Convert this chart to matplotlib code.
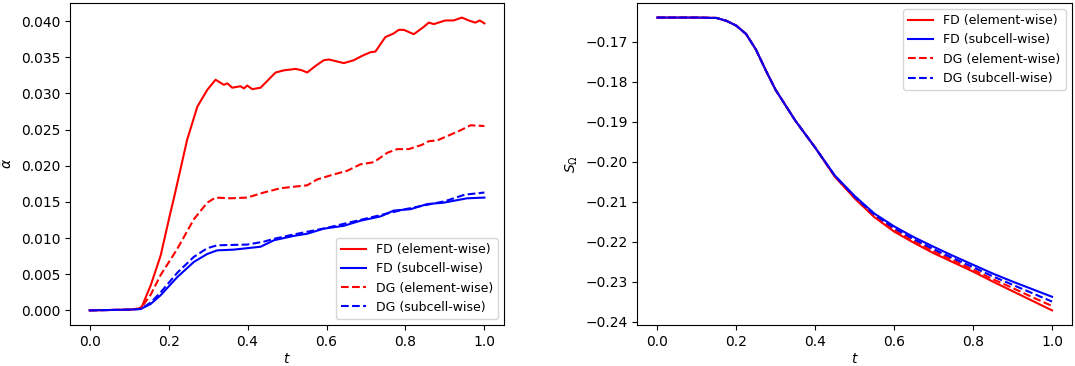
import numpy as np
import matplotlib
matplotlib.use('agg')
import matplotlib.pyplot as plt

# left panel: alpha-bar vs t
t_fd_el = [0.0, 0.10, 0.125, 0.133, 0.155, 0.18, 0.205, 0.213, 0.247, 0.273, 0.298, 0.319, 0.34, 0.349,
           0.361, 0.382, 0.391, 0.399, 0.412, 0.433, 0.471, 0.492, 0.522, 0.538, 0.551, 0.572,
           0.593, 0.606, 0.644, 0.669, 0.690, 0.711, 0.724, 0.749, 0.770, 0.783, 0.796, 0.821,
           0.846, 0.859, 0.872, 0.901, 0.922, 0.943, 0.960, 0.977, 0.988, 1.0]
a_fd_el = [0.0, 0.0001, 0.0002, 0.0006, 0.0035, 0.0076, 0.0136, 0.0154, 0.0236, 0.0282, 0.0305, 0.0319, 0.0312, 0.0314,
           0.0308, 0.0310, 0.0307, 0.0311, 0.0306, 0.0308, 0.0329, 0.0332, 0.0334, 0.0332, 0.0329, 0.0338,
           0.0346, 0.0347, 0.0342, 0.0346, 0.0352, 0.0357, 0.0358, 0.0378, 0.0383, 0.0388, 0.0388, 0.0382,
           0.0392, 0.0398, 0.0396, 0.0401, 0.0401, 0.0405, 0.0401, 0.0398, 0.0401, 0.0397]

t_dg_el = [0.0, 0.10, 0.13, 0.155, 0.18, 0.222, 0.264, 0.298, 0.319, 0.357, 0.399, 0.441, 0.484, 0.551,
           0.576, 0.618, 0.652, 0.686, 0.720, 0.754, 0.779, 0.808, 0.842, 0.859, 0.880, 0.914,
           0.939, 0.965, 1.0]
a_dg_el = [0.0, 0.0001, 0.0003, 0.0022, 0.0049, 0.0085, 0.0126, 0.0149, 0.0156, 0.0155, 0.0156, 0.0163, 0.0169, 0.0173,
           0.0181, 0.0188, 0.0193, 0.0202, 0.0205, 0.0218, 0.0223, 0.0223, 0.0229, 0.0234, 0.0235, 0.0243,
           0.0249, 0.0256, 0.0255]

t_fd_sc = [0.0, 0.10, 0.13, 0.155, 0.18, 0.222, 0.264, 0.298, 0.323, 0.365, 0.433, 0.467, 0.517, 0.551,
           0.593, 0.644, 0.686, 0.737, 0.770, 0.813, 0.855, 0.897, 0.956, 1.0]
a_fd_sc = [0.0, 0.0001, 0.0002, 0.0009, 0.0021, 0.0046, 0.0067, 0.0078, 0.0083, 0.0084, 0.0088, 0.0097, 0.0103, 0.0106,
           0.0113, 0.0117, 0.0124, 0.0130, 0.0138, 0.0140, 0.0147, 0.0149, 0.0155, 0.0156]

t_dg_sc = [0.0, 0.10, 0.13, 0.155, 0.18, 0.222, 0.264, 0.298, 0.323, 0.399, 0.441, 0.467, 0.517, 0.60,
           0.70, 0.80, 0.90, 0.95, 1.0]
a_dg_sc = [0.0, 0.0001, 0.0002, 0.0011, 0.0025, 0.0052, 0.0074, 0.0086, 0.0090, 0.0091, 0.0095, 0.0099, 0.0105, 0.0114,
           0.0127, 0.0140, 0.0151, 0.0160, 0.0163]

# right panel: S_Omega vs t
t_s = [0.0, 0.1, 0.15, 0.175, 0.2, 0.225, 0.25, 0.275, 0.3, 0.35, 0.4, 0.45, 0.5,
       0.55, 0.6, 0.65, 0.7, 0.75, 0.8, 0.85, 0.9, 0.95, 1.0]
s_head = [-0.1640, -0.1640, -0.1641, -0.1648, -0.1660, -0.1681, -0.1720, -0.1772, -0.1821,
          -0.1898, -0.1965]
s_fd_el = s_head + [-0.2038, -0.2092, -0.2139, -0.2175, -0.2203, -0.2229, -0.2252, -0.2275, -0.2300, -0.2324, -0.2348, -0.2372]
s_fd_sc = s_head + [-0.2035, -0.2086, -0.2130, -0.2162, -0.2189, -0.2213, -0.2236, -0.2258, -0.2280, -0.2300, -0.2319, -0.2338]
s_dg_el = s_head + [-0.2037, -0.2090, -0.2136, -0.2171, -0.2199, -0.2224, -0.2247, -0.2270, -0.2294, -0.2316, -0.2339, -0.2361]
s_dg_sc = s_head + [-0.2036, -0.2088, -0.2133, -0.2166, -0.2194, -0.2219, -0.2242, -0.2264, -0.2287, -0.2308, -0.2329, -0.2350]

labels = ['FD (element-wise)', 'FD (subcell-wise)', 'DG (element-wise)', 'DG (subcell-wise)']

fig, (ax1, ax2) = plt.subplots(1, 2, figsize=(10.75, 3.66), dpi=100)
ax1.set_position([0.065, 0.112, 0.404, 0.880])
ax2.set_position([0.593, 0.112, 0.404, 0.880])

ax1.plot(t_fd_el, a_fd_el, 'r-', label=labels[0])
ax1.plot(t_fd_sc, a_fd_sc, 'b-', label=labels[1])
ax1.plot(t_dg_el, a_dg_el, 'r--', label=labels[2])
ax1.plot(t_dg_sc, a_dg_sc, 'b--', label=labels[3])
ax1.set_xlabel(r'$t$', labelpad=2)
ax1.set_ylabel(r'$\bar{\alpha}$')
ax1.set_xticks([0.0, 0.2, 0.4, 0.6, 0.8, 1.0])
ax1.legend(loc='lower right', fontsize=9)

ax2.plot(t_s, s_fd_el, 'r-', label=labels[0])
ax2.plot(t_s, s_fd_sc, 'b-', label=labels[1])
ax2.plot(t_s, s_dg_el, 'r--', label=labels[2])
ax2.plot(t_s, s_dg_sc, 'b--', label=labels[3])
ax2.set_xlabel(r'$t$', labelpad=2)
ax2.set_ylabel(r'$S_\Omega$')
ax2.set_xticks([0.0, 0.2, 0.4, 0.6, 0.8, 1.0])
ax2.legend(loc='upper right', fontsize=9)

plt.savefig('out.png', dpi=100)
